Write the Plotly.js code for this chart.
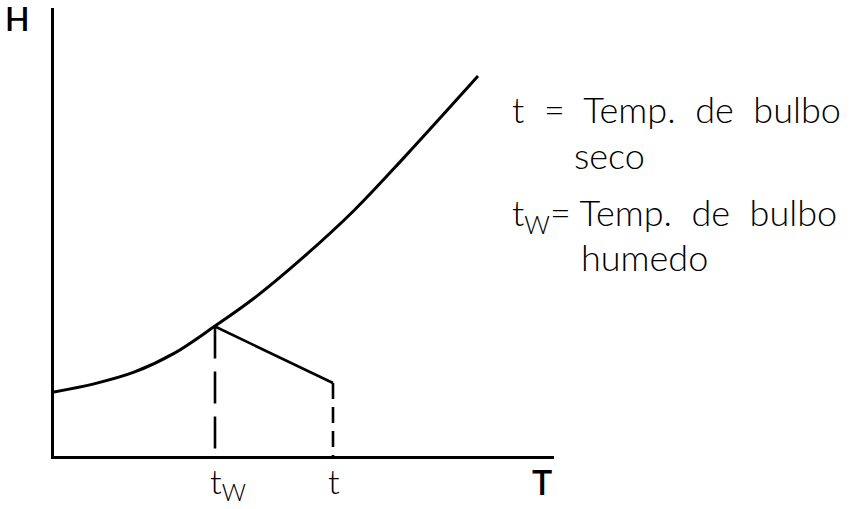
<!DOCTYPE html>
<html>
<head>
<meta charset="utf-8">
<script src="https://cdn.plot.ly/plotly-3.0.1.min.js"></script>
<style>html,body{margin:0;padding:0;background:#fff;}#chart{width:853px;height:509px;}</style>
</head>
<body>
<div id="chart"></div>
<script>
// Saturation curve H(T) (arbitrary units)
const curveT = [0, 8, 16, 24, 32.2, 40, 50, 60, 70, 84.8];
const curveH = [14.3, 16.1, 18.7, 22.9, 29.0, 35.2, 44.5, 54.8, 66.6, 84.8];
// Adiabatic saturation line between (tw, Hw) and (t, H)
const lineT = [32.2, 55.8];
const lineH = [28.9, 16.3];
// Temperature marks
const tw = 32.2, tdry = 55.8;
const markVals = [tw, tdry];
const markText = ['t<sub>W</sub>', 't'];
// Legend texts
const legendLines = ['t  =  Temp.  de  bulbo', 'seco', 't<sub>W</sub>= Temp.  de  bulbo', 'humedo'];

const FONT = 'Lato, Noto Sans, DejaVu Sans, sans-serif';
// pixel -> paper helpers for text placement (plot area 54..554 x 8..456)
const qx = x => (x - 54) / 500;
const qy = y => (456 - y) / 448;

const traces = [
  {x: curveT, y: curveH, mode: 'lines', line: {color: '#000', width: 3, shape: 'spline', smoothing: 1}, hoverinfo: 'skip'},
  {x: lineT, y: lineH, mode: 'lines', line: {color: '#000', width: 2.6}, hoverinfo: 'skip'},
  {x: [tw, tw], y: [lineH[0], 0], mode: 'lines', line: {color: '#000', width: 2.6, dash: '32px,13px'}, hoverinfo: 'skip'},
  {x: [tdry, tdry], y: [lineH[1], 0], mode: 'lines', line: {color: '#000', width: 2.6, dash: '16px,8px'}, hoverinfo: 'skip'}
];

const ann = (x, y, text, size, xa, ya, weight) => ({
  xref: 'paper', yref: 'paper', x: qx(x), y: qy(y), text: text, showarrow: false,
  xanchor: xa || 'left', yanchor: ya || 'middle',
  font: {family: FONT, size: size, color: '#000', weight: weight || 300}
});

const annotations = [
  ann(17, 19, 'H', 32, 'center', 'middle', 600),
  ann(542, 481, 'T', 34, 'center', 'middle', 600),
  ann(510, 109, legendLines[0], 36),
  ann(572, 155, legendLines[1], 36),
  ann(510, 214, legendLines[2], 36),
  ann(579, 257, legendLines[3], 36)
];
markVals.forEach((v, i) => annotations.push({
  xref: 'x', yref: 'paper', x: v, y: qy(458), text: markText[i], showarrow: false,
  xanchor: 'left', yanchor: 'top', xshift: -7,
  font: {family: FONT, size: 34, color: '#000', weight: 300}
}));

const layout = {
  width: 853, height: 509,
  margin: {l: 54, r: 299, t: 8, b: 53},
  paper_bgcolor: '#fff', plot_bgcolor: '#fff',
  showlegend: false,
  xaxis: {range: [0, 100], showline: true, linecolor: '#000', linewidth: 3,
          showgrid: false, zeroline: false, ticks: '', showticklabels: false},
  yaxis: {range: [0, 100], showline: true, linecolor: '#000', linewidth: 3,
          showgrid: false, zeroline: false, showticklabels: false, ticks: ''},
  annotations: annotations
};

Plotly.newPlot('chart', traces, layout, {staticPlot: true, displayModeBar: false});
</script>
</body>
</html>
